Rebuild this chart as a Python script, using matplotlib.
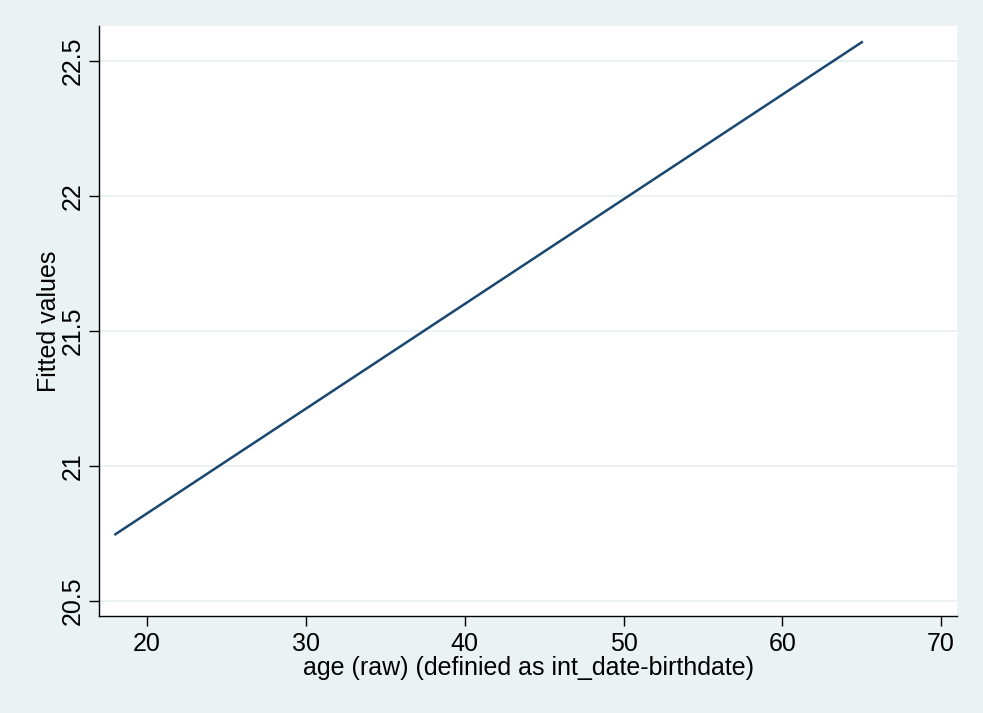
import matplotlib
matplotlib.use("Agg")
import matplotlib.pyplot as plt

# fitted line endpoints (age, fitted value)
age = [18, 65]
fitted = [20.746, 22.57]

x_ticks = [20, 30, 40, 50, 60, 70]
y_ticks = [20.5, 21, 21.5, 22, 22.5]
y_tick_labels = ["20.5", "21", "21.5", "22", "22.5"]

BG = "#EAF2F3"
LINE = "#1A476F"

plt.rcParams["font.family"] = ["Liberation Sans", "DejaVu Sans"]

fig = plt.figure(figsize=(9.83, 7.13), dpi=100, facecolor=BG)
ax = fig.add_axes([0.1012, 0.136, 0.8724, 0.8275])
ax.set_facecolor("white")

for y in y_ticks:
    ax.axhline(y, color=BG, linewidth=1.5, zorder=1)

ax.plot(age, fitted, color=LINE, linewidth=1.8, zorder=3)

ax.set_xlim(17, 71)
ax.set_ylim(20.443, 22.63)
ax.set_xticks(x_ticks)
ax.set_yticks(y_ticks)
ax.set_yticklabels(y_tick_labels, rotation=90, va="center")
ax.tick_params(axis="both", labelsize=18, length=7.5, width=1, color="black")
ax.tick_params(axis="x", pad=4)
ax.tick_params(axis="y", pad=3)

for side in ["top", "right"]:
    ax.spines[side].set_visible(False)
for side in ["left", "bottom"]:
    ax.spines[side].set_linewidth(1)
    ax.spines[side].set_color("black")

ax.set_xlabel("age (raw) (definied as int_date-birthdate)", fontsize=18, labelpad=0)
ax.set_ylabel("Fitted values", fontsize=18, labelpad=0)

fig.savefig("out.png", dpi=100, facecolor=BG)
